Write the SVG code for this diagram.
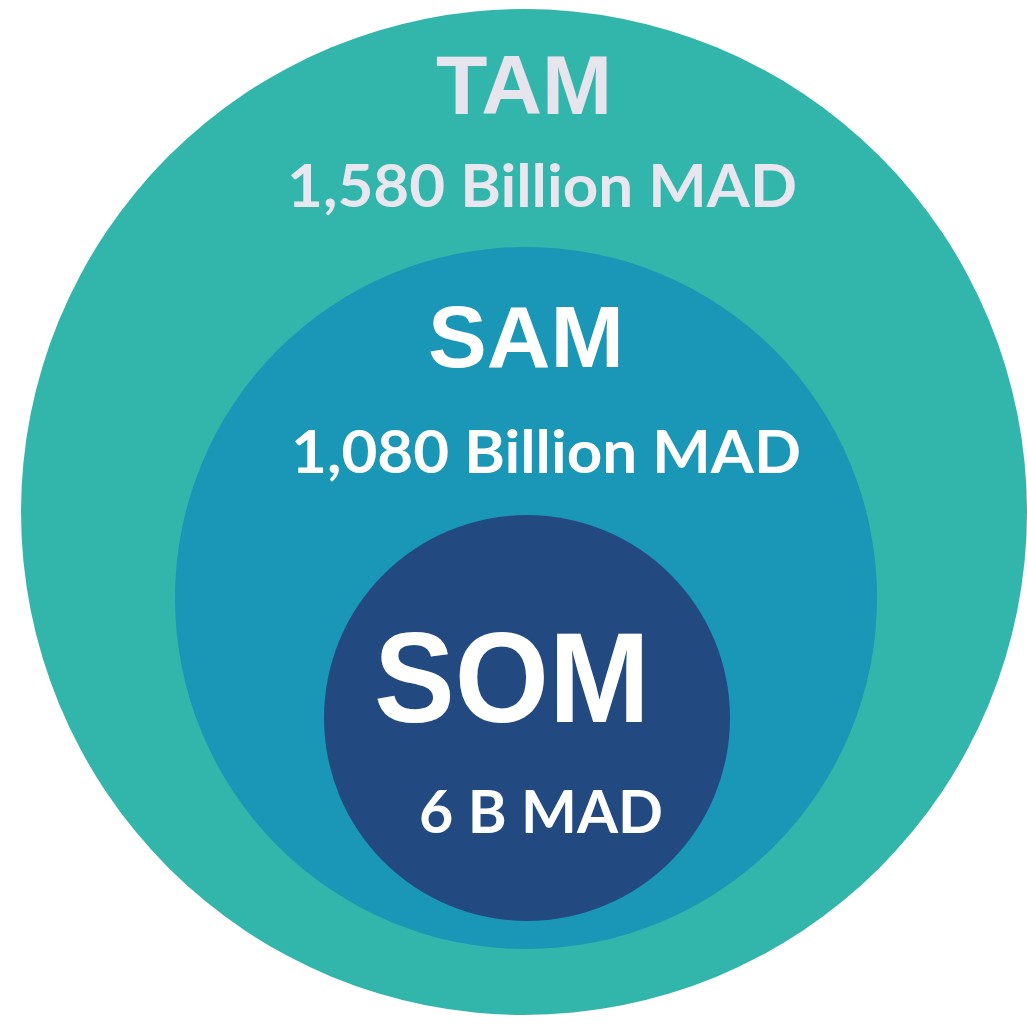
<svg xmlns="http://www.w3.org/2000/svg" width="1027" height="1025" viewBox="0 0 1027 1025">
  <style>
    .title { font-family: "Liberation Sans", Arial, sans-serif; font-weight: 700; text-anchor: middle; }
    .value { font-family: Lato, "Open Sans", "Liberation Sans", sans-serif; font-weight: 700; text-anchor: middle; }
  </style>
  <rect width="1027" height="1025" fill="#ffffff"/>
  <g id="tam">
    <circle cx="524" cy="512" r="503" fill="#32B5AB"/>
    <text class="title" x="524" y="114" font-size="84" fill="#E6E4EC" textLength="176" lengthAdjust="spacingAndGlyphs">TAM</text>
    <text class="value" x="542" y="207" font-size="60" fill="#E8E6EE" textLength="510" lengthAdjust="spacingAndGlyphs">1,580 Billion MAD</text>
  </g>
  <g id="sam">
    <circle cx="526" cy="598" r="351" fill="#1A96B6"/>
    <text class="title" x="526" y="367" font-size="88" fill="#FFFFFF" textLength="196" lengthAdjust="spacingAndGlyphs">SAM</text>
    <text class="value" x="546" y="473" font-size="60" fill="#FFFFFF" textLength="510" lengthAdjust="spacingAndGlyphs">1,080 Billion MAD</text>
  </g>
  <g id="som">
    <circle cx="527" cy="718" r="203" fill="#224A80"/>
    <text class="title" x="512" y="722" font-size="128" fill="#FFFFFF" textLength="276" lengthAdjust="spacingAndGlyphs">SOM</text>
    <text class="value" x="541" y="833" font-size="60" fill="#FFFFFF" textLength="244" lengthAdjust="spacingAndGlyphs">6 B MAD</text>
  </g>
  <g id="connectors"/>
</svg>
